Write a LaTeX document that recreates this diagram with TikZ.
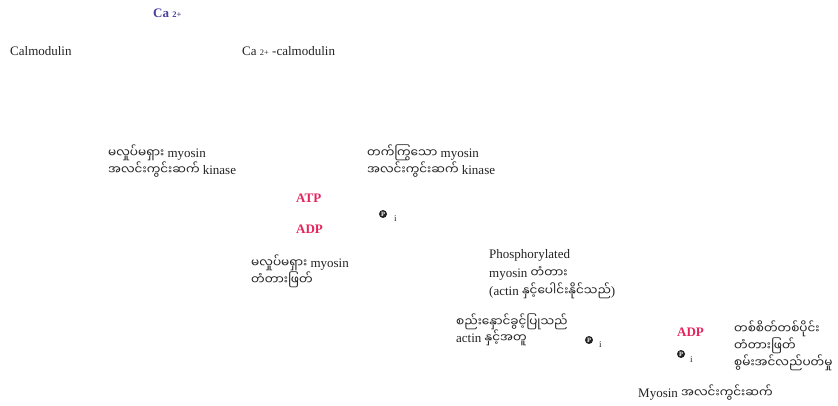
\documentclass[tikz,border=0pt]{standalone}
\usepackage{fontspec}
\setmainfont{Liberation Serif}
\newfontfamily\mmfont[Script=Myanmar,Scale=0.93]{Noto Sans Myanmar UI}
\newcommand{\mm}[1]{{\mmfont #1}}
\definecolor{capurple}{HTML}{4A3F9C}
\definecolor{nucred}{HTML}{E5245C}
\definecolor{txtgray}{HTML}{222222}
\tikzset{
  lbl/.style={anchor=base west, inner sep=0pt, text=txtgray, font=\fontsize{13}{15}\selectfont},
  nuc/.style={lbl, text=nucred, font=\fontsize{13}{15}\selectfont\bfseries},
  ion/.style={lbl, text=capurple, font=\fontsize{13}{15}\selectfont\bfseries},
  pcirc/.style={circle, fill=txtgray, inner sep=0pt, minimum size=8pt, text=white,
    font=\fontsize{6.5}{6.5}\selectfont\bfseries},
  sub/.style={anchor=base west, inner sep=0pt, text=txtgray, font=\fontsize{9}{10}\selectfont}
}
\newcommand{\smalltwo}{{\fontsize{8.5}{9}\selectfont 2+}}
\begin{document}
\begin{tikzpicture}[x=1pt,y=1pt]
\useasboundingbox (0,0) rectangle (838,-405);

% calcium and calmodulin
\node[ion] (ca) at (153,-17) {Ca \smalltwo};
\node[lbl] (cam) at (10,-55) {Calmodulin};
\node[lbl] (cacam) at (242,-55) {Ca \smalltwo\ -calmodulin};

% light chain kinase, inactive and active
\node[lbl] (mlckA) at (108,-157) {\mm{မလှုပ်မရှား} myosin};
\node[lbl] (mlckB) at (108,-174) {\mm{အလင်းကွင်းဆက်} kinase};
\node[lbl] (amlckA) at (367,-157) {\mm{တက်ကြွသော} myosin};
\node[lbl] (amlckB) at (367,-174) {\mm{အလင်းကွင်းဆက်} kinase};

% phosphorylation step
\node[nuc] (atp) at (296,-202) {ATP};
\node[nuc] (adp1) at (296,-233) {ADP};
\node[pcirc] (p1) at (383,-214) {P};
\node[sub] (i1) at (394,-221) {i};

% cross-bridges
\node[lbl] (ibrA) at (251,-267) {\mm{မလှုပ်မရှား} myosin};
\node[lbl] (ibrB) at (251,-284) {\mm{တံတားဖြတ်}};
\node[lbl] (pbrA) at (489,-258) {Phosphorylated};
\node[lbl] (pbrB) at (489,-277) {myosin \mm{တံတား}};
\node[lbl] (pbrC) at (489,-295) {(actin \mm{နှင့်ပေါင်းနိုင်သည်})};

% actin binding
\node[lbl] (bindA) at (456,-326) {\mm{စည်းနှောင်ခွင့်ပြုသည်}};
\node[lbl] (bindB) at (456,-342) {actin \mm{နှင့်အတူ}};
\node[pcirc] (p2) at (589,-340) {P};
\node[sub] (i2) at (599,-347) {i};

% cycling
\node[nuc] (adp2) at (677,-336) {ADP};
\node[pcirc] (p3) at (681,-354) {P};
\node[sub] (i3) at (690,-362) {i};
\node[lbl] (cycA) at (734,-333) {\mm{တစ်စိတ်တစ်ပိုင်း}};
\node[lbl] (cycB) at (734,-350) {\mm{တံတားဖြတ်}};
\node[lbl] (cycC) at (734,-367) {\mm{စွမ်းအင်လည်ပတ်မှု}};

% phosphatase
\node[lbl] (mlcp) at (638,-397) {Myosin \mm{အလင်းကွင်းဆက်}};
\end{tikzpicture}
\end{document}
